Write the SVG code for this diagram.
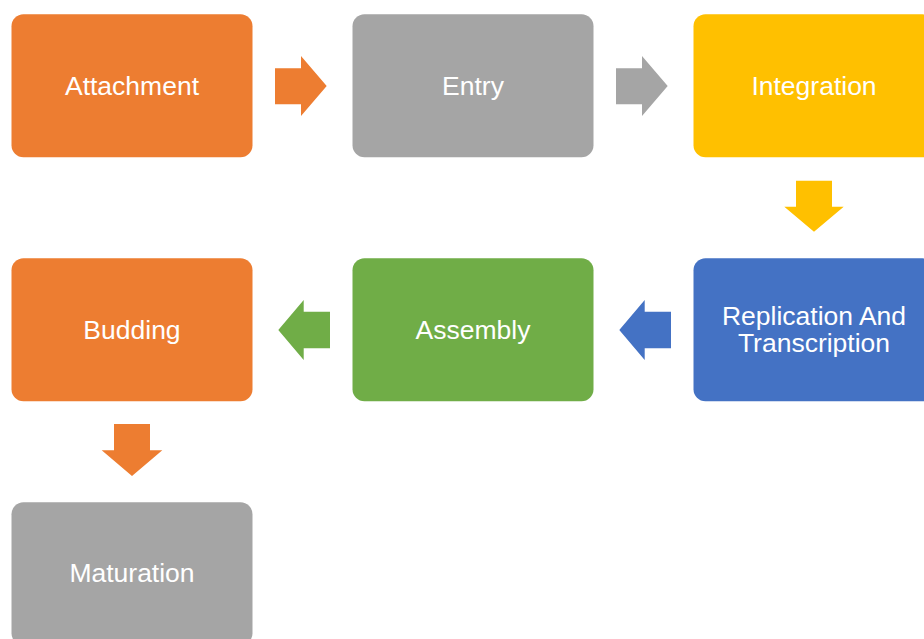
<svg xmlns="http://www.w3.org/2000/svg" width="924" height="639" viewBox="0 0 924 639">
<style>
.lbl{font-family:"Liberation Sans",Arial,sans-serif;font-size:26.5px;fill:#FFFFFF;text-anchor:middle}
.orange{fill:#ED7D31}.gray{fill:#A5A5A5}.yellow{fill:#FFC000}.blue{fill:#4472C4}.green{fill:#70AD47}
</style>
<rect width="924" height="639" fill="#FFFFFF"/>
<g id="connectors">
<polygon class="orange" points="275,68.3 301,68.3 301,56 326.7,86 301,116 301,104.3 275,104.3"/>
<polygon class="gray" points="616,68.3 642,68.3 642,56 667.7,86 642,116 642,104.3 616,104.3"/>
<polygon class="yellow" points="796,180.7 832,180.7 832,206.7 843.7,206.7 814,231.7 784.3,206.7 796,206.7"/>
<polygon class="blue" points="671,311.7 644.7,311.7 644.7,300 619.3,330 644.7,360 644.7,348.3 671,348.3"/>
<polygon class="green" points="330,311.7 303.7,311.7 303.7,300 278.3,330 303.7,360 303.7,348.3 330,348.3"/>
<polygon class="orange" points="114,424 150,424 150,450.3 162.3,450.3 132,476 101.7,450.3 114,450.3"/>
</g>
<g id="attachment"><rect class="orange" x="11.5" y="14.3" width="241" height="143" rx="12"/><text class="lbl" x="132" y="95">Attachment</text></g>
<g id="entry"><rect class="gray" x="352.5" y="14.3" width="241" height="143" rx="12"/><text class="lbl" x="473" y="95">Entry</text></g>
<g id="integration"><rect class="yellow" x="693.5" y="14.3" width="241" height="143" rx="12"/><text class="lbl" x="814" y="95">Integration</text></g>
<g id="replication"><rect class="blue" x="693.5" y="258.3" width="241" height="143" rx="12"/><text class="lbl" x="814" y="325">Replication And</text><text class="lbl" x="814" y="352.3">Transcription</text></g>
<g id="assembly"><rect class="green" x="352.5" y="258.3" width="241" height="143" rx="12"/><text class="lbl" x="473" y="339.3">Assembly</text></g>
<g id="budding"><rect class="orange" x="11.5" y="258.3" width="241" height="143" rx="12"/><text class="lbl" x="132" y="339.3">Budding</text></g>
<g id="maturation"><rect class="gray" x="11.5" y="502.3" width="241" height="143" rx="12"/><text class="lbl" x="132" y="582">Maturation</text></g>
</svg>
